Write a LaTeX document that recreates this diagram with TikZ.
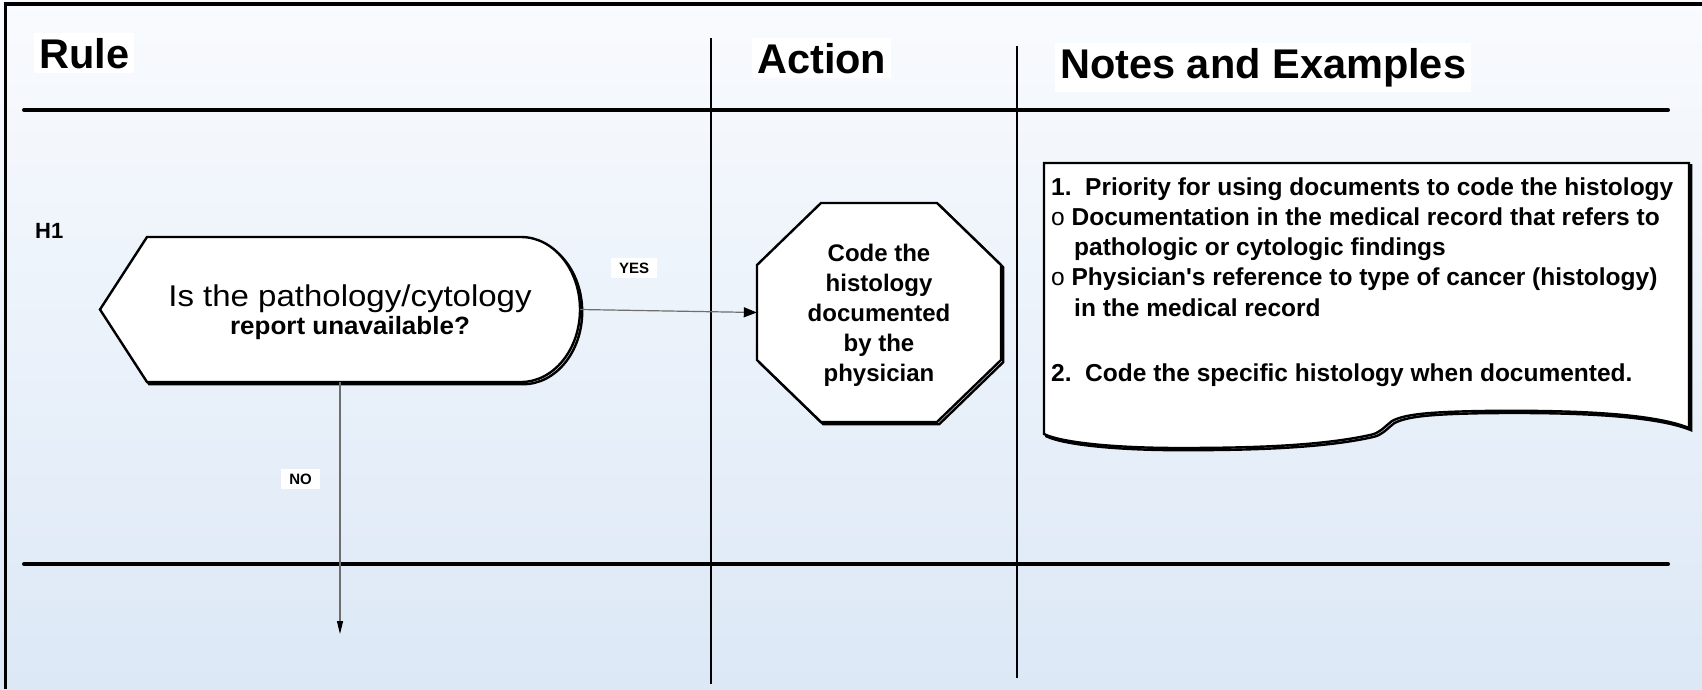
\documentclass[tikz,border=0pt]{standalone}
\usepackage{fontspec}
\setmainfont{Liberation Sans}[Ligatures=TeXOff]
\usetikzlibrary{arrows.meta}
\definecolor{bgtop}{HTML}{F9FBFE}
\definecolor{bgbot}{HTML}{DCE8F6}
\definecolor{wire}{HTML}{6E6E6E}
\begin{document}
\begin{tikzpicture}[x=1pt,y=-1pt,
  head/.style={font=\fontsize{41.5}{41.5}\selectfont\bfseries, fill=white, inner sep=5pt, anchor=base west},
  lane/.style={line width=4pt, line cap=round},
  divider/.style={line width=1.6pt},
  outlined/.style={draw=black, line width=2.4pt, fill=white, line join=miter},
  shadowed/.style={draw=black, line width=2.4pt, shift={(2.2,2.2)}},
  flow/.style={draw=wire, line width=1.2pt},
  tag/.style={font=\fontsize{15}{15}\selectfont\bfseries, fill=white, inner xsep=8pt, inner ysep=5pt},
  notetext/.style={font=\fontsize{24.5}{24.5}\selectfont\bfseries, anchor=base west, inner sep=0pt}]
\useasboundingbox (0,0) rectangle (1702,689);

% background and frame
\shade[top color=bgtop, bottom color=bgbot] (0,0) rectangle (1702,689);
\draw[line width=4pt] (4,4) -- (1702,4);
\draw[line width=3pt] (5.5,2.5) -- (5.5,689);

% swimlane rules
\draw[lane] (24,110) -- (1668,110);
\draw[lane] (24,564) -- (1668,564);
\draw[divider] (711,38) -- (711,684);
\draw[divider] (1017,46) -- (1017,678);

% column headings
\node[head] (hRule) at (34,68) {Rule};
\node[head] (hAction) at (752,73) {Action};
\node[head] (hNotes) at (1055,78) {Notes and Examples};
\node[font=\fontsize{22}{22}\selectfont\bfseries, anchor=base west, inner sep=0pt] (h1) at (35,238) {H1};

% decision: display shape
\node[inner sep=0pt, minimum width=480pt, minimum height=145pt] (q) at (340,309.5) {};
\draw[shadowed] (100,309.5) -- (147,237) -- (521,237)
  .. controls (553.6,237) and (580,269.5) .. (580,309.5)
  .. controls (580,349.5) and (553.6,382) .. (521,382) -- (147,382) -- cycle;
\draw[outlined] (100,309.5) -- (147,237) -- (521,237)
  .. controls (553.6,237) and (580,269.5) .. (580,309.5)
  .. controls (580,349.5) and (553.6,382) .. (521,382) -- (147,382) -- cycle;
\node[font=\fontsize{30}{30}\selectfont, anchor=base, inner sep=0pt] (qa) at (350,306) {\scalebox{1.1}[1]{Is the pathology/cytology}};
\node[font=\fontsize{25}{25}\selectfont\bfseries, anchor=base, inner sep=0pt] (qb) at (350,334) {\scalebox{1.04}[1]{report unavailable?}};

% action: octagon
\node[inner sep=0pt, minimum width=244pt, minimum height=219pt] (act) at (879,312.5) {};
\draw[shadowed] (821,203) -- (937,203) -- (1001,265) -- (1001,360) -- (937,422) -- (821,422) -- (757,360) -- (757,265) -- cycle;
\draw[outlined] (821,203) -- (937,203) -- (1001,265) -- (1001,360) -- (937,422) -- (821,422) -- (757,360) -- (757,265) -- cycle;
\node[font=\fontsize{24}{30}\selectfont\bfseries, align=center, inner sep=0pt] (acttxt) at (879,315) {Code the\\histology\\documented\\by the\\physician};

% notes: document shape with wavy bottom
\draw[shadowed] (1044,163) -- (1689,163) -- (1689,428)
  .. controls (1650,412) and (1560,410) .. (1480,411)
  .. controls (1430,412) and (1405,414) .. (1392,421)
  .. controls (1383,428) and (1380,433) .. (1370,435)
  .. controls (1320,446) and (1250,448) .. (1180,448)
  .. controls (1110,448) and (1060,442) .. (1044,434) -- cycle;
\draw[outlined] (1044,163) -- (1689,163) -- (1689,428)
  .. controls (1650,412) and (1560,410) .. (1480,411)
  .. controls (1430,412) and (1405,414) .. (1392,421)
  .. controls (1383,428) and (1380,433) .. (1370,435)
  .. controls (1320,446) and (1250,448) .. (1180,448)
  .. controls (1110,448) and (1060,442) .. (1044,434) -- cycle;
\node[notetext] (n1) at (1051,195) {1.\ \ Priority for using documents to code the histology};
\node[notetext] (n2) at (1051,225) {\mdseries o\ \bfseries Documentation in the medical record that refers to};
\node[notetext] (n3) at (1074,255) {pathologic or cytologic findings};
\node[notetext] (n4) at (1051,285) {\mdseries o\ \bfseries Physician's reference to type of cancer (histology)};
\node[notetext] (n5) at (1074,316) {in the medical record};
\node[notetext] (n6) at (1051,381) {2.\ \ Code the specific histology when documented.};

% connectors
\coordinate (noEnd) at (340,634);
\draw[flow, -{Triangle[length=13pt, width=10pt, color=black]}] (q.east) -- (act.west);
\draw[flow, -{Triangle[length=13pt, width=6pt, color=black]}] (q.south) -- (noEnd);
\node[tag] (yes) at (634,268) {YES};
\node[tag] (no) at (300.5,479) {NO};
\end{tikzpicture}
\end{document}
